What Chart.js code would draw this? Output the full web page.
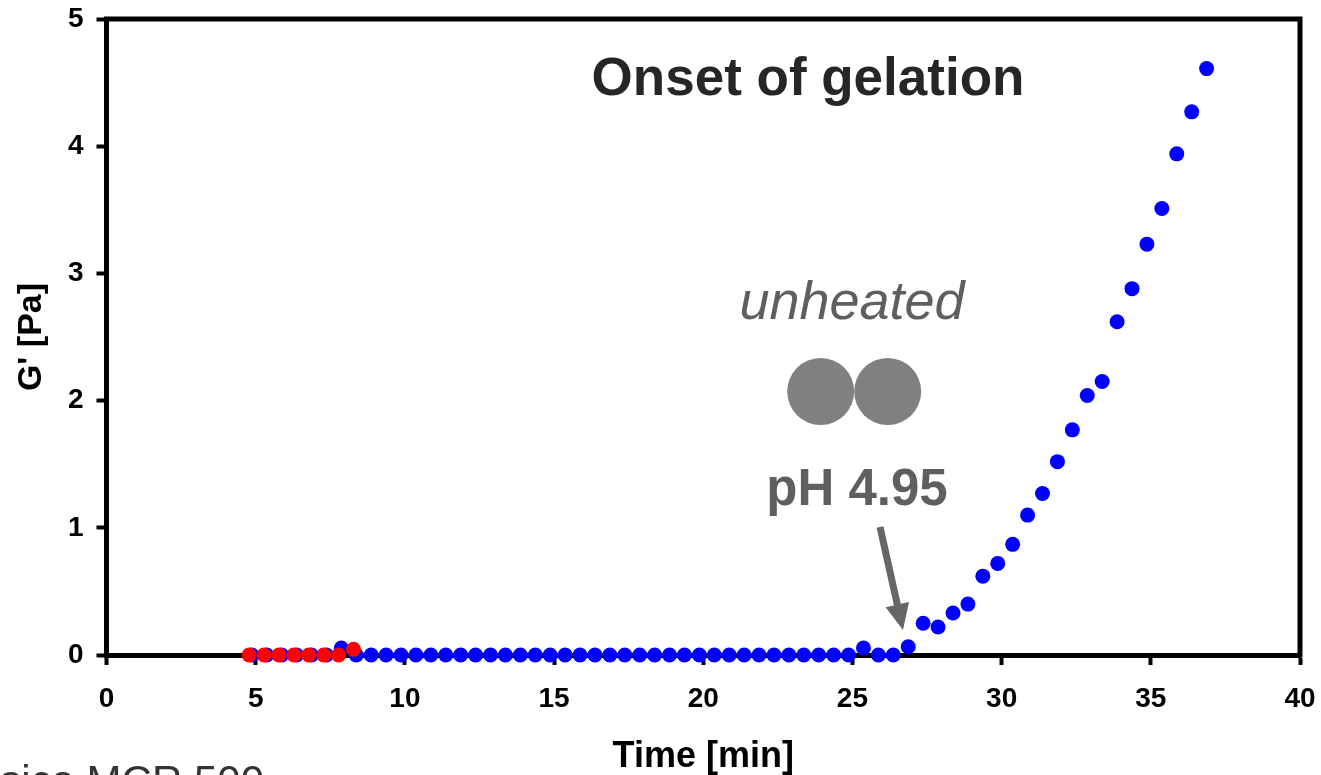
<!DOCTYPE html>
<html>
<head>
<meta charset="utf-8">
<script src="https://cdn.jsdelivr.net/npm/chart.js@4.4.1/dist/chart.umd.min.js"></script>
<style>
  html, body { margin: 0; padding: 0; background: #ffffff; overflow: hidden; }
  #c { display: block; }
</style>
</head>
<body>
<canvas id="c" width="1321" height="775"></canvas>
<script>
// ---- data ----
const blueTimes = [
  4.87, 5.37, 5.87, 6.37, 6.87, 7.37, 7.87, 8.37, 8.87, 9.37,
  9.87, 10.37, 10.87, 11.37, 11.87, 12.37, 12.87, 13.37, 13.87, 14.37,
  14.87, 15.37, 15.87, 16.37, 16.87, 17.37, 17.87, 18.37, 18.87, 19.37,
  19.87, 20.37, 20.87, 21.37, 21.87, 22.37, 22.87, 23.37, 23.87, 24.37,
  24.87, 25.37, 25.87, 26.37, 26.87, 27.37, 27.87, 28.37, 28.87, 29.37,
  29.87, 30.37, 30.87, 31.37, 31.87, 32.37, 32.87, 33.37, 33.87, 34.37,
  34.87, 35.37, 35.87, 36.37, 36.87
];
const blueGPrime = [
  0, 0, 0, 0, 0, 0, 0.055, 0, 0, 0,
  0, 0, 0, 0, 0, 0, 0, 0, 0, 0,
  0, 0, 0, 0, 0, 0, 0, 0, 0, 0,
  0, 0, 0, 0, 0, 0, 0, 0, 0, 0,
  0, 0.055, 0, 0, 0.065, 0.25, 0.22, 0.33, 0.40, 0.62,
  0.72, 0.87, 1.10, 1.27, 1.52, 1.77, 2.04, 2.15, 2.62, 2.88,
  3.23, 3.51, 3.94, 4.27, 4.61
];
const redTimes = [4.78, 5.28, 5.78, 6.28, 6.78, 7.28, 7.78, 8.28];
const redGPrime = [0, 0, 0, 0, 0, 0, 0, 0.045];

const xTickValues = [0, 5, 10, 15, 20, 25, 30, 35, 40];
const yTickValues = [0, 1, 2, 3, 4, 5];

const xTitle = 'Time [min]';
const yTitle = "G' [Pa]";
const chartTitle = 'Onset of gelation';
const sampleLabel = 'unheated';
const phLabel = 'pH 4.95';
const instrumentLabel = 'Physica MCR 500';

// ---- build datasets ----
const bluePoints = blueTimes.map((t, i) => ({ x: t, y: blueGPrime[i] }));
const redPoints = redTimes.map((t, i) => ({ x: t, y: redGPrime[i] }));

const FONT = "'Liberation Sans', Arial, sans-serif";

const framePlugin = {
  id: 'frame',
  beforeDatasetsDraw(chart) {
    const { ctx, chartArea: a } = chart;
    ctx.save();
    ctx.strokeStyle = '#000';
    ctx.lineWidth = 5;
    ctx.lineCap = 'butt';
    ctx.beginPath();
    ctx.moveTo(a.left - 2.5, a.top);
    ctx.lineTo(a.right, a.top);
    ctx.lineTo(a.right, a.bottom + 2.5);
    ctx.stroke();
    ctx.restore();
  }
};

const annotPlugin = {
  id: 'annot',
  afterDraw(chart) {
    const { ctx } = chart;
    ctx.save();
    // title
    ctx.fillStyle = '#262626';
    ctx.font = 'bold 53px ' + FONT;
    ctx.textAlign = 'center';
    ctx.textBaseline = 'alphabetic';
    ctx.fillText(chartTitle, 808, 95);

    // unheated
    ctx.fillStyle = '#5f5f5f';
    ctx.font = 'italic 54px ' + FONT;
    ctx.fillText(sampleLabel, 852, 319);

    // circles
    ctx.fillStyle = '#808080';
    ctx.beginPath(); ctx.arc(820.7, 391.5, 33.5, 0, Math.PI * 2); ctx.fill();
    ctx.beginPath(); ctx.arc(887.7, 391.5, 33.5, 0, Math.PI * 2); ctx.fill();

    // pH label
    ctx.fillStyle = '#5f5f5f';
    ctx.font = 'bold 51px ' + FONT;
    ctx.fillText(phLabel, 857, 505);

    // arrow
    const x0 = 880, y0 = 527, x1 = 903, y1 = 630;
    const dx = x1 - x0, dy = y1 - y0, len = Math.hypot(dx, dy);
    const ux = dx / len, uy = dy / len, px = -uy, py = ux;
    const headLen = 26, headHalf = 12, shaftHalf = 3.5;
    const bx = x1 - ux * headLen, by = y1 - uy * headLen;
    ctx.fillStyle = '#666666';
    ctx.beginPath();
    ctx.moveTo(x0 + px * shaftHalf, y0 + py * shaftHalf);
    ctx.lineTo(bx + px * shaftHalf, by + py * shaftHalf);
    ctx.lineTo(bx + px * headHalf, by + py * headHalf);
    ctx.lineTo(x1, y1);
    ctx.lineTo(bx - px * headHalf, by - py * headHalf);
    ctx.lineTo(bx - px * shaftHalf, by - py * shaftHalf);
    ctx.lineTo(x0 - px * shaftHalf, y0 - py * shaftHalf);
    ctx.closePath();
    ctx.fill();

    // instrument label (clipped at the canvas edge like the reference)
    ctx.fillStyle = '#333333';
    ctx.font = '42px ' + FONT;
    ctx.textAlign = 'right';
    ctx.fillText(instrumentLabel, 264, 795);
    ctx.restore();
  }
};

new Chart(document.getElementById('c'), {
  type: 'scatter',
  data: {
    datasets: [
      {
        label: 'red',
        data: redPoints,
        backgroundColor: '#ff0000',
        borderColor: '#ff0000',
        pointRadius: 7.5,
        pointHoverRadius: 7.5,
        pointBorderWidth: 0,
        clip: false
      },
      {
        label: 'blue',
        data: bluePoints,
        backgroundColor: '#0000ff',
        borderColor: '#0000ff',
        pointRadius: 7.5,
        pointHoverRadius: 7.5,
        pointBorderWidth: 0,
        clip: false
      }
    ]
  },
  options: {
    responsive: false,
    animation: false,
    events: [],
    layout: { padding: { top: 19, right: 21, left: 0, bottom: 0 } },
    plugins: { legend: { display: false }, tooltip: { enabled: false } },
    scales: {
      x: {
        type: 'linear',
        min: 0, max: 40,
        afterFit(s) { s.height = 120; s.paddingLeft = 0; s.paddingRight = 0; },
        afterBuildTicks(s) { s.ticks = xTickValues.map(v => ({ value: v })); },
        ticks: {
          color: '#000',
          font: { family: FONT, size: 28, weight: 'bold' },
          padding: 17
        },
        grid: {
          drawOnChartArea: false,
          drawTicks: true,
          tickLength: 10,
          tickWidth: 4,
          tickColor: '#000',
          color: '#000'
        },
        border: { display: true, color: '#000', width: 5 },
        title: {
          display: true,
          text: xTitle,
          color: '#000',
          font: { family: FONT, size: 36, weight: 'bold', lineHeight: 1.0 },
          padding: { top: 0, bottom: 0 }
        }
      },
      y: {
        type: 'linear',
        min: 0, max: 5,
        afterFit(s) { s.width = 106.5; s.paddingTop = 0; s.paddingBottom = 0; },
        afterBuildTicks(s) { s.ticks = yTickValues.map(v => ({ value: v })); },
        ticks: {
          color: '#000',
          font: { family: FONT, size: 28, weight: 'bold' },
          padding: 13
        },
        grid: {
          drawOnChartArea: false,
          drawTicks: true,
          tickLength: 10,
          tickWidth: 4,
          tickColor: '#000',
          color: '#000'
        },
        border: { display: true, color: '#000', width: 5 },
        title: {
          display: true,
          text: yTitle,
          color: '#000',
          font: { family: FONT, size: 34, weight: 'bold' },
          padding: { top: 11, bottom: 0 }
        }
      }
    }
  },
  plugins: [framePlugin, annotPlugin]
});
</script>
</body>
</html>
